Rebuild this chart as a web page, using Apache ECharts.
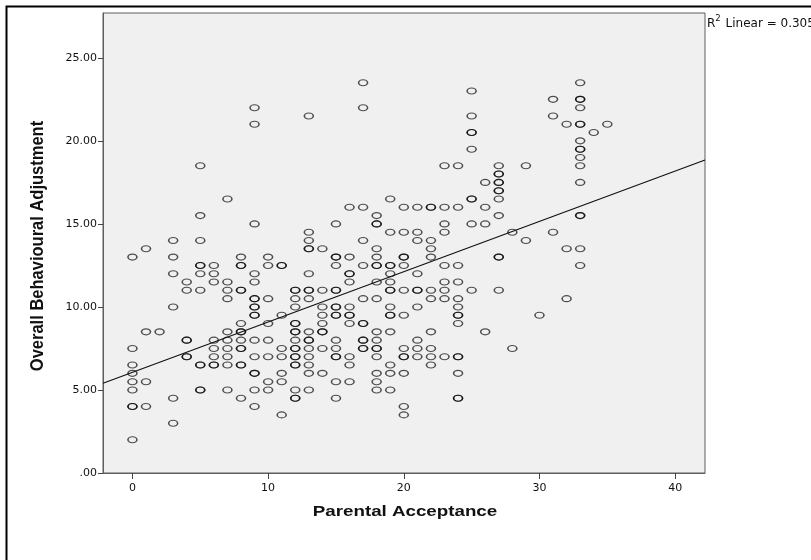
<!DOCTYPE html>
<html><head><meta charset="utf-8">
<script src="https://cdn.jsdelivr.net/npm/echarts@6/dist/echarts.min.js"></script>
<style>html,body{margin:0;padding:0;background:#fff}#c{width:811px;height:560px}</style>
</head><body><div id="c"></div>
<script>
// ---- data ----
const xTickValues = [0, 10, 20, 30, 40];
const yTickValues = [0, 5, 10, 15, 20, 25];
const xTitle = 'Parental Acceptance';
const yTitle = 'Overall Behavioural Adjustment';
const rSquaredText = '0.305';
const fitIntercept = 6.06;
const fitSlope = 0.303;

const acceptanceLevels = [0,1,2,3,4,5,6,7,8,9,10,11,12,13,14,15,16,17,18,19,20,21,22,23,24,25,26,27,28,29,30,31,32,33,34,35];
const adjustmentAt = [
  [13,7.5,6.5,6,5.5,5,4,4,2],
  [13.5,8.5,5.5,4],
  [8.5],
  [14,13,12,10,4.5,3],
  [11.5,11,8,8,7,7],
  [18.5,15.5,14,12.5,12.5,12,11,6.5,6.5,5,5],
  [12.5,12,11.5,8,7.5,7,6.5,6.5],
  [16.5,11.5,11,10.5,8.5,8,7.5,7,6.5,5],
  [13,12.5,12.5,11,11,9,8.5,8.5,8,7.5,7.5,6.5,6.5,4.5],
  [22,21,15,12,11.5,10.5,10.5,10,10,9.5,9.5,8,7,6,6,5,4],
  [13,12.5,10.5,9,8,7,5.5,5],
  [12.5,12.5,9.5,7.5,7,6,5.5,3.5],
  [11,11,10.5,10,9,9,8.5,8.5,8,7.5,7.5,7,7,6.5,6.5,5,4.5,4.5],
  [21.5,14.5,14,13.5,13.5,12,11,11,10.5,8.5,8,8,7.5,7,6.5,6,5],
  [13.5,11,10,9.5,9,8.5,8.5,7.5,6],
  [15,13,13,12.5,11,11,10,10,9.5,9.5,8,7.5,7,7,5.5,4.5],
  [16,13,12,12,11.5,10,9.5,9.5,9,7,6.5,5.5],
  [23.5,22,16,14,12.5,10.5,9,9,8,8,7.5,7.5],
  [15.5,15,15,13.5,13,12.5,12.5,11.5,10.5,8.5,8,7.5,7.5,7,6,5.5,5],
  [16.5,14.5,12.5,12.5,12,11.5,11,11,10,9.5,9.5,8.5,6.5,6,5],
  [16,14.5,13,13,12.5,11,9.5,7.5,7,7,6,4,3.5],
  [16,14.5,14,12,11,11,10,8,7.5,7],
  [16,16,14,13.5,13,11,10.5,8.5,7.5,7,6.5],
  [18.5,16,15,14.5,12.5,11.5,11,10.5,7],
  [18.5,16,12.5,11.5,10.5,10,9.5,9.5,9,7,7,6,4.5,4.5],
  [23,21.5,20.5,20.5,19.5,16.5,16.5,15,11],
  [17.5,16,15,8.5],
  [18.5,18,18,17.5,17.5,17,17,16.5,15.5,13,13,11],
  [14.5,7.5],
  [18.5,14],
  [9.5],
  [22.5,21.5,14.5],
  [21,13.5,10.5],
  [23.5,22.5,22.5,22,21,21,20,19.5,19.5,19,18.5,17.5,15.5,15.5,13.5,12.5],
  [20.5],
  [21]
];
const xMin = -2.17, xMax = 42.2, yMin = 0, yMax = 27.7;

// ---- build ----
const points = [];
acceptanceLevels.forEach((x, i) => adjustmentAt[i].forEach(y => points.push([x, y])));
const fitLine = [[xMin, fitIntercept + fitSlope * xMin], [xMax, fitIntercept + fitSlope * xMax]];

const chart = echarts.init(document.getElementById('c'), null, {renderer: 'canvas'});
const labelFont = '"DejaVu Sans", sans-serif';
chart.setOption({
  animation: false,
  backgroundColor: '#ffffff',
  grid: {left: 103, top: 13, width: 602, height: 460, show: true,
         backgroundColor: '#f0f0f0', borderColor: '#5e5e5e', borderWidth: 1},
  xAxis: {
    type: 'value', min: xMin, max: xMax,
    axisLine: {show: true, onZero: false, lineStyle: {color: '#5e5e5e', width: 1}},
    axisTick: {show: true, length: 6, customValues: xTickValues, lineStyle: {color: '#444'}},
    axisLabel: {customValues: xTickValues, color: '#111', fontSize: 11, fontFamily: labelFont, margin: 10},
    splitLine: {show: false}
  },
  yAxis: {
    type: 'value', min: yMin, max: yMax,
    axisLine: {show: true, onZero: false, lineStyle: {color: '#5e5e5e', width: 1}},
    axisTick: {show: true, length: 5, customValues: yTickValues, lineStyle: {color: '#444'}},
    axisLabel: {customValues: yTickValues, color: '#111', fontSize: 11, fontFamily: labelFont, margin: 6,
                formatter: v => v === 0 ? '.00' : v.toFixed(2)},
    splitLine: {show: false}
  },
  series: [
    {type: 'line', data: fitLine, showSymbol: false, symbol: 'none', silent: true,
     lineStyle: {color: '#111', width: 1.2}, z: 3},
    {type: 'scatter', data: points, silent: true, z: 2,
     symbol: 'path://M0,3A4.5,3,0,1,1,9,3A4.5,3,0,1,1,0,3Z', symbolSize: [9, 6],
     itemStyle: {color: 'rgba(0,0,0,0)', borderColor: 'rgba(0,0,0,0.68)', borderWidth: 1.3, opacity: 1}}
  ],
  graphic: [
    {type: 'rect', left: 4, top: 4, shape: {x: 0, y: 0, width: 900, height: 700}, silent: true,
     style: {fill: 'none', stroke: '#000', lineWidth: 2}, z: 100},
    {type: 'text', x: 405, y: 512, scaleX: 1.25, silent: true,
     style: {text: xTitle, font: 'bold 15px "Liberation Sans", Arial, sans-serif', fill: '#111',
             align: 'center', verticalAlign: 'middle'}},
    {type: 'text', x: 38, y: 246, rotation: Math.PI / 2, scaleY: 1.12, silent: true,
     style: {text: yTitle, font: 'bold 16.5px "Liberation Sans", Arial, sans-serif', fill: '#111',
             align: 'center', verticalAlign: 'middle'}},
    {type: 'text', x: 707, y: 22, silent: true,
     style: {text: '{r|R}{s|2}{r| Linear = ' + rSquaredText + '}', verticalAlign: 'middle', align: 'left',
             rich: {r: {fontSize: 12, fontFamily: labelFont, fill: '#111', verticalAlign: 'bottom'},
                    s: {fontSize: 8.5, fontFamily: labelFont, fill: '#111', verticalAlign: 'top', padding: [0, 1, 6, 0]}}}}
  ]
});
</script>
</body></html>
